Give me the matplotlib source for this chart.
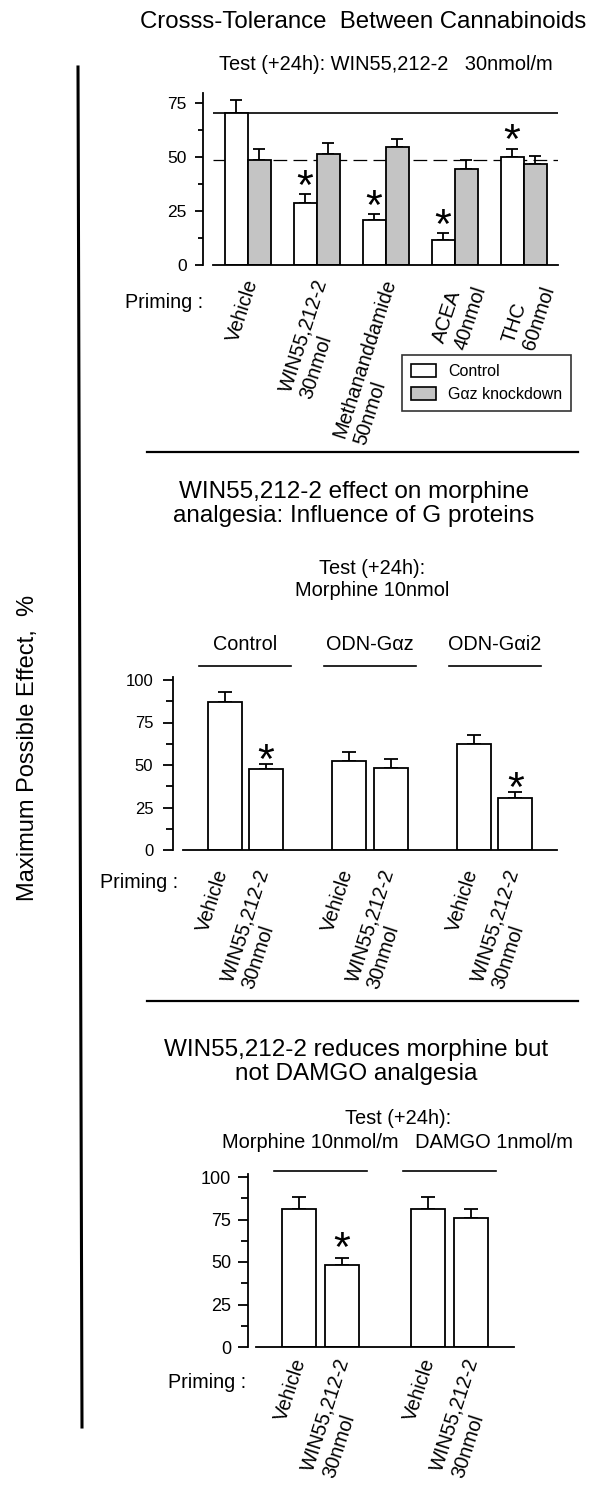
import matplotlib
matplotlib.use('Agg')
import matplotlib.pyplot as plt
from matplotlib.lines import Line2D
from matplotlib.patches import Patch
import numpy as np

plt.rcParams['font.family'] = ['Liberation Sans', 'DejaVu Sans']

# ---------------- data ----------------
# Panel 1: cross-tolerance between cannabinoids
p1_priming = ['Vehicle', 'WIN55,212-2\n30nmol', 'Methananddamide\n50nmol',
              'ACEA\n40nmol', 'THC\n60nmol']
p1_control = [70.6, 28.6, 20.7, 11.8, 50.0]
p1_control_err = [6.0, 4.2, 3.0, 3.0, 4.0]
p1_gaz = [48.7, 51.6, 54.6, 44.7, 46.7]
p1_gaz_err = [5.0, 5.0, 4.0, 4.0, 4.0]
p1_sig = [False, True, True, True, True]
p1_series = ['Control', 'G\u03b1z knockdown']
p1_yticks = [0, 25, 50, 75]

# Panel 2: influence of G proteins
p2_groups = ['Control', 'ODN-G\u03b1z', 'ODN-G\u03b1i2']
p2_priming = ['Vehicle', 'WIN55,212-2\n30nmol']
p2_values = [[87.0, 47.5], [52.5, 48.5], [62.5, 30.5]]
p2_err = [[6.0, 3.0], [5.0, 5.0], [5.0, 3.5]]
p2_sig = [[False, True], [False, False], [False, True]]
p2_yticks = [0, 25, 50, 75, 100]

# Panel 3: morphine vs DAMGO
p3_groups = ['Morphine 10nmol/m', 'DAMGO 1nmol/m']
p3_priming = ['Vehicle', 'WIN55,212-2\n30nmol']
p3_values = [[81.0, 48.5], [81.0, 76.0]]
p3_err = [[7.0, 4.0], [7.0, 5.0]]
p3_sig = [[False, True], [False, False]]
p3_yticks = [0, 25, 50, 75, 100]

GRAY = '#c4c4c4'
LW = 1.3

W, H = 600, 1493
fig = plt.figure(figsize=(W / 100, H / 100), dpi=100)


def px_ax(left, right, y0, ytop):
    return fig.add_axes([left / W, 1 - y0 / H, (right - left) / W, (y0 - ytop) / H])


def ftext(x, y, s, **kw):
    return fig.text(x / W, 1 - y / H, s, **kw)


def fline(x0, y0, x1, y1, lw=1.6):
    fig.add_artist(Line2D([x0 / W, x1 / W], [1 - y0 / H, 1 - y1 / H],
                          color='black', lw=lw, transform=fig.transFigure))


def style(ax, outward_px, labelsize, major_len, minor_len, yticks, pad):
    for s in ['top', 'right']:
        ax.spines[s].set_visible(False)
    ax.spines['left'].set_position(('outward', outward_px * 0.72))
    ax.spines['left'].set_linewidth(LW)
    ax.spines['bottom'].set_linewidth(LW)
    ax.set_xticks([])
    ax.set_yticks(yticks)
    ax.set_yticks(np.arange(0, yticks[-1], 12.5), minor=True)
    ax.tick_params(axis='y', which='major', length=major_len, width=LW,
                   labelsize=labelsize, pad=pad)
    ax.tick_params(axis='y', which='minor', length=minor_len, width=LW)
    ax.patch.set_alpha(0)


def rot_label(ax, x, s, dx_px, dy_px):
    ax.annotate(s, xy=(x, 0), xycoords=('data', 'data'),
                xytext=(dx_px * 0.72, -dy_px * 0.72), textcoords='offset points',
                ha='right', va='top', rotation=72, rotation_mode='anchor',
                multialignment='left', fontsize=14.4, annotation_clip=False)


def star(ax, x, y, off_pt):
    ax.annotate('*', xy=(x, y), xytext=(0, off_pt), textcoords='offset points',
                ha='center', va='baseline', fontsize=31, annotation_clip=False)


# ---------------- global decorations ----------------
fline(78, 67, 82, 1427, lw=2.2)
ftext(28, 748, 'Maximum Possible Effect,  %', rotation=90, ha='center',
      va='center', fontsize=17)
fline(147, 452, 578, 452, lw=1.6)
fline(147, 1001, 578, 1001, lw=1.6)

# ---------------- panel 1 ----------------
ftext(363, 22, 'Crosss-Tolerance  Between Cannabinoids', ha='center',
      va='center', fontsize=17.3)
ftext(386, 65, 'Test (+24h): WIN55,212-2   30nmol/m', ha='center',
      va='center', fontsize=14.4)
ax1 = px_ax(213, 558, 265, 265 - 80 * 2.156)
x1 = np.arange(len(p1_priming))
ax1.set_xlim(-0.5, len(p1_priming) - 0.5)
ax1.set_ylim(0, 80)
ax1.axhline(p1_control[0], color='black', lw=1.2, zorder=1)
ax1.axhline(p1_gaz[0], color='black', lw=0.9, ls=(0, (11, 5)), zorder=1)
ax1.bar(x1 - 1 / 6, p1_control, width=1 / 3, color='white', edgecolor='black',
        lw=LW, zorder=2, label=p1_series[0])
ax1.bar(x1 + 1 / 6, p1_gaz, width=1 / 3, color=GRAY, edgecolor='black',
        lw=LW, zorder=2, label=p1_series[1])
ax1.errorbar(x1 - 1 / 6, p1_control, yerr=[np.zeros(len(x1)), p1_control_err],
             fmt='none', ecolor='black', elinewidth=LW, capsize=4, capthick=LW,
             zorder=1.9)
ax1.errorbar(x1 + 1 / 6, p1_gaz, yerr=[np.zeros(len(x1)), p1_gaz_err],
             fmt='none', ecolor='black', elinewidth=LW, capsize=4, capthick=LW,
             zorder=1.9)
for i, sig in enumerate(p1_sig):
    if sig:
        star(ax1, x1[i] - 1 / 6, p1_control[i] + p1_control_err[i], -3.5)
style(ax1, 10, 12.5, 5.8, 3.6, p1_yticks, 6)
for i, lab in enumerate(p1_priming):
    rot_label(ax1, x1[i], lab, -4, 12)
ftext(125, 302, 'Priming :', ha='left', va='center', fontsize=14.2)
handles = [Patch(facecolor='white', edgecolor='black', lw=1.2),
           Patch(facecolor=GRAY, edgecolor='black', lw=1.2)]
leg = fig.legend(handles, p1_series, loc='upper left',
                 bbox_to_anchor=(402 / W, 1 - 355 / H), fontsize=11.5,
                 frameon=True, fancybox=False, edgecolor='black',
                 handlelength=1.6, handleheight=0.85, handletextpad=0.75,
                 labelspacing=0.5, borderpad=0.55, borderaxespad=0)
leg.get_frame().set_linewidth(1.2)

# ---------------- panel 2 ----------------
ftext(354, 504, 'WIN55,212-2 effect on morphine\nanalgesia: Influence of G proteins',
      ha='center', va='center', fontsize=17.5, linespacing=1.15)
ftext(372, 580, 'Test (+24h):\nMorphine 10nmol', ha='center', va='center',
      fontsize=14.4, linespacing=1.2)
ax2 = px_ax(183, 557, 850, 850 - 101.5 * 1.7)
ax2.set_xlim(-0.5, len(p2_groups) - 0.5)
ax2.set_ylim(0, 101.5)
off2 = 0.165
for g, grp in enumerate(p2_groups):
    xs = np.array([g - off2, g + off2])
    ax2.bar(xs, p2_values[g], width=0.273, color='white', edgecolor='black',
            lw=LW, zorder=2)
    ax2.errorbar(xs, p2_values[g], yerr=[np.zeros(2), p2_err[g]], fmt='none',
                 ecolor='black', elinewidth=LW, capsize=5, capthick=LW, zorder=1.9)
    for k in range(2):
        if p2_sig[g][k]:
            star(ax2, xs[k], p2_values[g][k] + p2_err[g][k], -6.5)
        rot_label(ax2, xs[k], p2_priming[k], -11, 17)
    ax2.plot([g - 0.37, g + 0.37], [108, 108], color='black', lw=1.2,
             clip_on=False)
    ax2.text(g, 121, grp, ha='center', va='center', fontsize=14.3, clip_on=False)
style(ax2, 10, 12, 7.2, 5, p2_yticks, 7)
ftext(100, 882, 'Priming :', ha='left', va='center', fontsize=14.2)

# ---------------- panel 3 ----------------
ftext(356, 1062, 'WIN55,212-2 reduces morphine but\nnot DAMGO analgesia',
      ha='center', va='center', fontsize=17.5, linespacing=1.15)
ftext(398, 1118, 'Test (+24h):', ha='center', va='center', fontsize=14.4)
ftext(222, 1142, '   '.join(p3_groups), ha='left', va='center', fontsize=14.4)
ax3 = px_ax(256, 514, 1347, 1347 - 101.5 * 1.7)
ax3.set_xlim(-0.5, len(p3_groups) - 0.5)
ax3.set_ylim(0, 101.5)
off3 = 1 / 6
for g in range(len(p3_groups)):
    xs = np.array([g - off3, g + off3])
    ax3.bar(xs, p3_values[g], width=0.264, color='white', edgecolor='black',
            lw=LW, zorder=2)
    ax3.errorbar(xs, p3_values[g], yerr=[np.zeros(2), p3_err[g]], fmt='none',
                 ecolor='black', elinewidth=LW, capsize=5, capthick=LW, zorder=1.9)
    for k in range(2):
        if p3_sig[g][k]:
            star(ax3, xs[k], p3_values[g][k] + p3_err[g][k], -2.0)
        rot_label(ax3, xs[k], p3_priming[k], -7, 9)
    ax3.plot([g - 0.357, g + 0.357], [103.5, 103.5], color='black', lw=1.2,
             clip_on=False)
style(ax3, 8, 13, 7.2, 5, p3_yticks, 5)
ftext(168, 1383, 'Priming :', ha='left', va='center', fontsize=14.2)

fig.savefig('out.png', dpi=100)
